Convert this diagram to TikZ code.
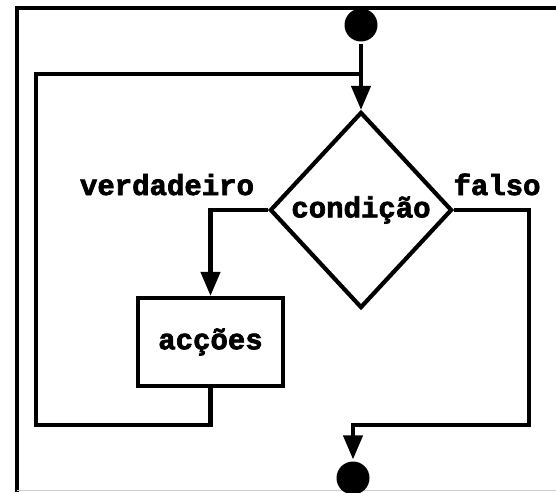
\documentclass[tikz,border=0pt]{standalone}
\usepackage{fontspec}
\newfontfamily\courfont[BoldFeatures={FakeBold=2.5}]{Liberation Mono}
\usetikzlibrary{arrows.meta,shapes.geometric}
\begin{document}
\begin{tikzpicture}[x=1pt,y=-1pt,
  line width=4.2pt,
  txt/.style={font=\courfont\bfseries\fontsize{29}{29}\selectfont, inner sep=0pt},
  dot/.style={circle, fill=black, draw=none, minimum size=33pt, inner sep=0pt},
  flow/.style={-{Triangle[width=19pt,length=24pt]}},
  decision/.style={diamond, draw, inner sep=0pt, minimum width=182pt, minimum height=196pt, font=\courfont\bfseries\fontsize{29}{29}\selectfont},
  actbox/.style={rectangle, draw, inner sep=0pt, minimum width=145pt, minimum height=88pt, font=\courfont\bfseries\fontsize{29}{29}\selectfont}
]
\useasboundingbox (0,0) rectangle (556,492);
% frame
\draw[line width=4.5pt] (17,492) -- (17,8) -- (556,8);
\draw[line width=1pt, gray!40] (17,490.5) -- (556,490.5);

\node[dot] (start) at (361,25) {};
\node[decision] (cond) at (361,210) {\raisebox{2pt}{condição}};
\node[actbox] (act) at (210.5,342) {\raisebox{-1pt}{acções}};
\node[dot] (stop) at (353,478) {};

\node[txt, anchor=base] (ver) at (167,195) {verdadeiro};
\node[txt, anchor=base] (fal) at (497,195) {falso};

\coordinate (join) at (361,74);
\coordinate (lb) at (36,425);
\coordinate (rb) at (529,425);

\draw[flow] (start) -- (cond.north);
\draw[flow] (cond.west) -| (act.north);
\draw (act.south) |- (lb) |- (join);
\draw[flow] (cond.east) -| (rb) -| (stop.north);
\end{tikzpicture}
\end{document}
